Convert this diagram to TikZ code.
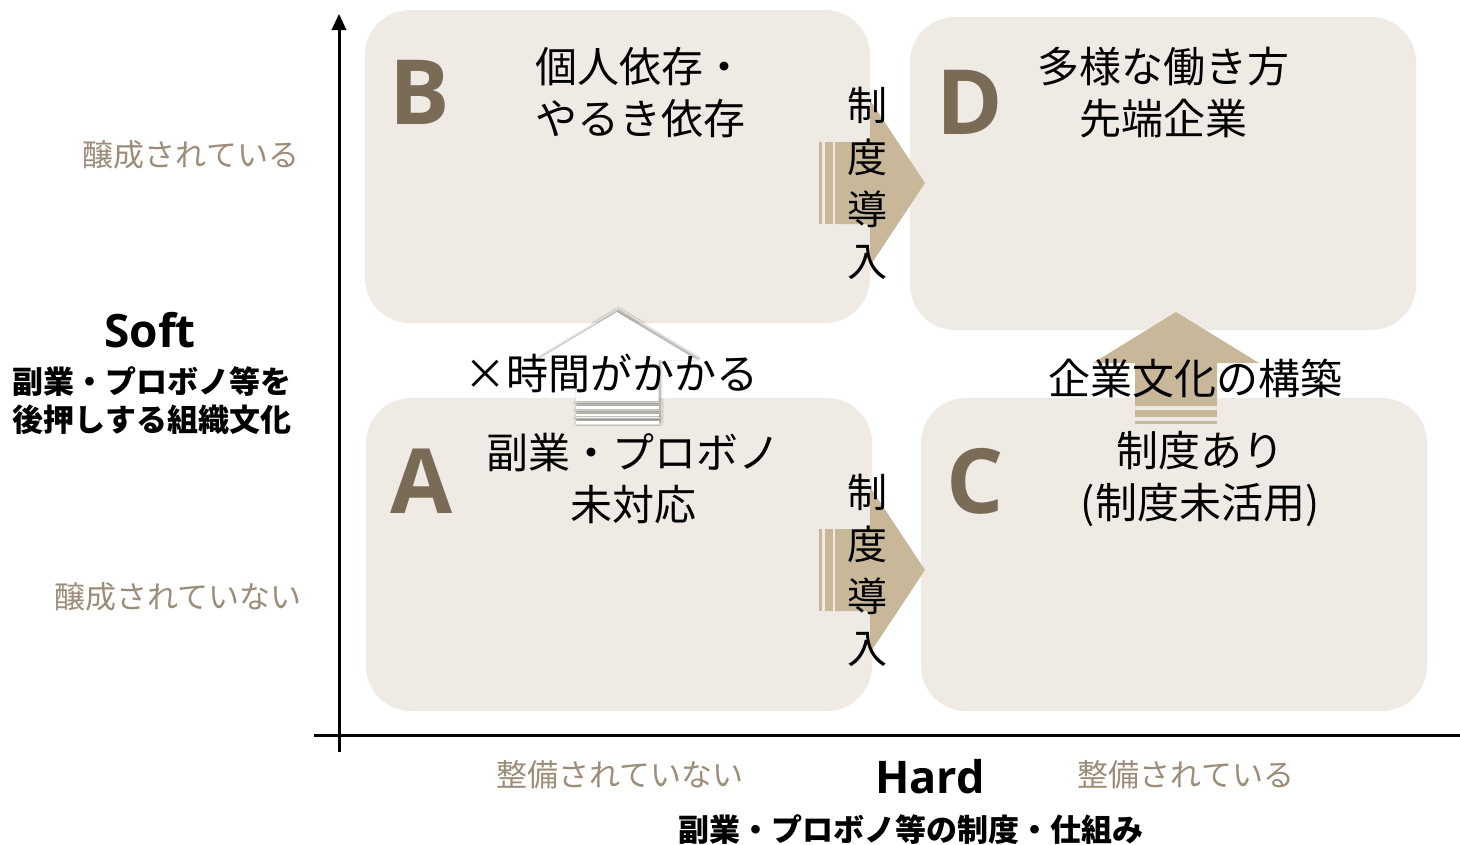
\documentclass[tikz,border=0pt]{standalone}
\usepackage{fontspec}
\usetikzlibrary{shadows.blur}
\setmainfont{Noto Sans CJK JP}
\newfontfamily\jp{Noto Sans CJK JP}
\newfontfamily\lat{Open Sans}
\definecolor{boxfill}{HTML}{EFEBE4}
\definecolor{tan}{HTML}{C8B799}
\definecolor{letter}{HTML}{7A6B57}
\definecolor{lab}{HTML}{9C8C78}
\tikzset{
  quad/.style={fill=boxfill, rounded corners=45pt, draw=none},
  bigletter/.style={text=letter, font=\lat\bfseries\fontsize{90}{90}\selectfont, inner sep=0},
  title/.style={font=\jp\fontsize{42}{52}\selectfont, align=center, inner sep=0},
  vert/.style={font=\jp\fontsize{40}{52}\selectfont, align=center, inner sep=0},
  axlab/.style={text=lab, font=\jp\fontsize{31}{34}\selectfont, inner sep=0},
  tanarrow/.style={fill=tan, draw=none},
  whitearrow/.style={fill=white, draw=none, blur shadow={shadow xshift=1.5pt, shadow yshift=1.5pt, shadow blur steps=8, shadow blur radius=3pt, shadow opacity=40}},
}
\begin{document}
\begin{tikzpicture}[x=1pt,y=-1pt]
\useasboundingbox (0,0) rectangle (1460,844);
% quadrant boxes
\path[quad] (365,10) rectangle (870,323);
\path[quad] (910,17) rectangle (1416,330);
\path[quad] (366,398) rectangle (872,711);
\path[quad] (921,398) rectangle (1427,711);
% axes
\draw[line width=3pt] (314,735) -- (1460,735);
\coordinate (ybot) at (339,752);
\coordinate (ytop) at (339,14);
\draw[line width=3pt] (ybot) -- (339,28);
\fill (ytop) -- (346.5,30) -- (331.5,30) -- cycle;
% right arrows (制度導入)
\foreach \cy in {183,570}{
  \fill[tanarrow] (835,\cy-41) -- (870,\cy-41) -- (870,\cy-83) -- (925,\cy) -- (870,\cy+83) -- (870,\cy+41) -- (835,\cy+41) -- cycle;
  \fill[tanarrow] (825,\cy-41) rectangle (833,\cy+41);
  \fill[tanarrow] (819,\cy-41) rectangle (822,\cy+41);
}
% white up arrow
\path[whitearrow] (575.5,402) -- (575.5,360) -- (537,360) -- (617,312) -- (697,360) -- (658.5,360) -- (658.5,402) -- cycle;
\path[whitearrow] (575.5,406) rectangle (658.5,410);
\path[whitearrow] (575.5,414) rectangle (658.5,418);
\path[whitearrow] (575.5,421) rectangle (658.5,424);
% tan up arrow
\fill[tanarrow] (1135,406) -- (1135,363) -- (1093,363) -- (1176,312) -- (1259,363) -- (1217,363) -- (1217,406) -- cycle;
\fill[tanarrow] (1135,410) rectangle (1217,417);
\fill[tanarrow] (1135,421) rectangle (1217,424);
% letters
\node[bigletter] (lB) at (420,92) {B};
\node[bigletter] (lD) at (970,102) {D};
\node[bigletter] (lA) at (422,481) {A};
\node[bigletter] (lC) at (975,481) {C};
% titles
\node[title] (tB) at (640,93) {個人依存・\\やるき依存};
\node[title] (tD) at (1163,93) {多様な働き方\\先端企業};
\node[title] (tA) at (633,479) {副業・プロボノ\\未対応};
\node[title] (tC) at (1200,479) {制度あり\\(制度未活用)};
% vertical labels
\node[vert] (v1) at (867,183) {制\\度\\導\\入};
\node[vert] (v2) at (867,570) {制\\度\\導\\入};
% up arrow labels
\node[title] (t1) at (611,373) {×時間がかかる};
\node[title] (t2) at (1195,378) {企業文化の構築};
% left labels
\node[axlab] (s1) at (191,155) {醸成されている};
\node[axlab] (s2) at (178,597) {醸成されていない};
\node[inner sep=0, font=\lat\bfseries\fontsize{46}{46}\selectfont] (soft) at (150,330) {Soft};
\node[inner sep=0, align=center, font=\jp\bfseries\fontsize{31}{38}\selectfont] (softd) at (152,401) {副業・プロボノ等を\\後押しする組織文化};
% bottom labels
\node[axlab] (h1) at (620,775) {整備されていない};
\node[axlab] (h2) at (1186,775) {整備されている};
\node[inner sep=0, font=\lat\bfseries\fontsize{45}{45}\selectfont] (hard) at (930,777) {Hard};
\node[inner sep=0, font=\jp\bfseries\fontsize{31}{34}\selectfont] (hardd) at (911,830) {副業・プロボノ等の制度・仕組み};
\end{tikzpicture}
\end{document}
